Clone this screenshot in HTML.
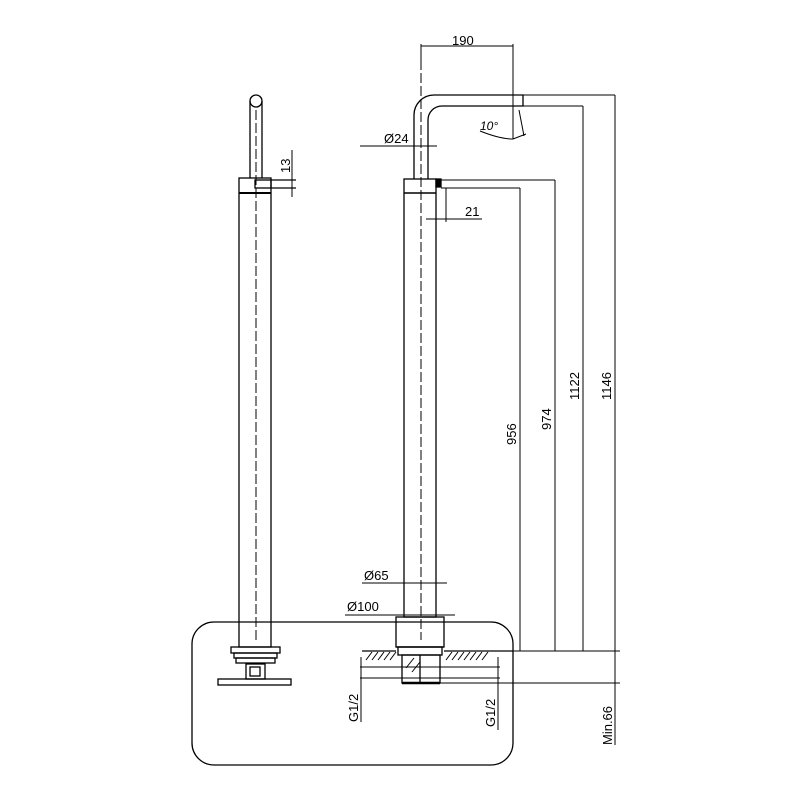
<!DOCTYPE html>
<html><head><style>body{margin:0;background:#fff}svg{display:block}</style></head><body>
<svg width="800" height="800" viewBox="0 0 800 800" xmlns="http://www.w3.org/2000/svg" font-family="Liberation Sans, sans-serif" font-size="13" fill="none" stroke="#000" stroke-width="1.3">
<rect x="192" y="622" width="321" height="143" rx="22"/>
<!-- left view -->
<circle cx="256" cy="101" r="6"/>
<line x1="250" y1="101" x2="250" y2="178"/><line x1="262" y1="101" x2="262" y2="178"/>
<rect x="239" y="178" width="32" height="469"/>
<line x1="239" y1="193" x2="271" y2="193" stroke-width="2"/>
<rect x="255" y="180" width="16" height="8"/>
<line x1="271" y1="180" x2="296" y2="180"/><line x1="271" y1="188" x2="296" y2="188"/>
<line x1="292" y1="150" x2="292" y2="197" stroke-width="1"/>
<line x1="256" y1="110" x2="256" y2="640" stroke-width="1" stroke-dasharray="10,3"/>
<rect x="231" y="647" width="49" height="6"/>
<rect x="234" y="653" width="43" height="5"/>
<rect x="236" y="658" width="39" height="5"/>
<rect x="246" y="664" width="19" height="15"/>
<rect x="250" y="667" width="10" height="9"/>
<rect x="218" y="679" width="73" height="6"/>
<!-- right view -->
<path d="M414 179 V115 A20 20 0 0 1 434 95 H523 V106 H442 A14 14 0 0 0 428 120 V179"/>
<rect x="404" y="179" width="32" height="438"/>
<line x1="404" y1="193" x2="436" y2="193" stroke-width="1.5"/>
<rect x="436" y="179" width="5" height="8" fill="#000"/>
<line x1="421" y1="60" x2="421" y2="640" stroke-width="1" stroke-dasharray="10,3"/>
<rect x="396" y="617" width="48" height="30"/>
<line x1="396" y1="647" x2="444" y2="647"/>
<rect x="398" y="647" width="44" height="8"/>
<rect x="402" y="655" width="38" height="28"/>
<line x1="420" y1="655" x2="420" y2="683"/>
<line x1="402" y1="683" x2="440" y2="683" stroke-width="2.5"/>
<line x1="362" y1="651" x2="396" y2="651"/><line x1="444" y1="651" x2="513" y2="651"/>
<g stroke-width="1">
<path d="M366 660 l6 -8 M372 660 l6 -8 M378 660 l6 -8 M384 660 l6 -8 M390 660 l6 -8 M446 660 l6 -8 M452 660 l6 -8 M458 660 l6 -8 M464 660 l6 -8 M470 660 l6 -8 M476 660 l6 -8 M482 660 l6 -8 M406 668 l8 -10 M412 672 l8 -10"/>
<!-- dims -->
<line x1="421" y1="46" x2="513" y2="46"/><line x1="513" y1="44" x2="513" y2="104"/><line x1="421" y1="44" x2="421" y2="60"/>
<line x1="523" y1="95" x2="615" y2="95"/><line x1="442" y1="106" x2="583" y2="106"/>
<line x1="441" y1="180" x2="555" y2="180"/><line x1="441" y1="188" x2="520" y2="188"/>
<line x1="520" y1="188" x2="520" y2="651"/><line x1="555" y1="180" x2="555" y2="651"/>
<line x1="583" y1="106" x2="583" y2="651"/><line x1="615" y1="95" x2="615" y2="745"/>
<line x1="513" y1="651" x2="620" y2="651"/><line x1="440" y1="683" x2="620" y2="683"/>
<line x1="360" y1="146" x2="437" y2="146"/>
<line x1="446" y1="188" x2="446" y2="222"/><line x1="426" y1="219" x2="482" y2="219"/>
<line x1="362" y1="583" x2="447" y2="583"/><line x1="345" y1="615" x2="455" y2="615"/>
<line x1="361" y1="657" x2="361" y2="722"/><line x1="498" y1="657" x2="498" y2="730"/>
<line x1="360" y1="667" x2="500" y2="667"/><line x1="360" y1="678" x2="500" y2="678"/>
<line x1="513" y1="104" x2="513" y2="139"/><path d="M480 131 Q500 139 513 139 L526 134"/><line x1="519" y1="110" x2="524" y2="136"/>
</g>
<g fill="#000" stroke="none">
<text x="452" y="45">190</text>
<text x="384" y="143">Ø24</text>
<text x="465" y="216">21</text>
<text x="364" y="580">Ø65</text>
<text x="347" y="611">Ø100</text>
<text x="480" y="130" font-style="italic" font-size="12">10°</text>
<text transform="translate(290,173) rotate(-90)">13</text>
<text transform="translate(516,445) rotate(-90)">956</text>
<text transform="translate(551,430) rotate(-90)">974</text>
<text transform="translate(579,400) rotate(-90)">1122</text>
<text transform="translate(611,400) rotate(-90)">1146</text>
<text transform="translate(358,722) rotate(-90)">G1/2</text>
<text transform="translate(495,727) rotate(-90)">G1/2</text>
<text transform="translate(612,745) rotate(-90)">Min.66</text>
</g>
</svg>
</body></html>
